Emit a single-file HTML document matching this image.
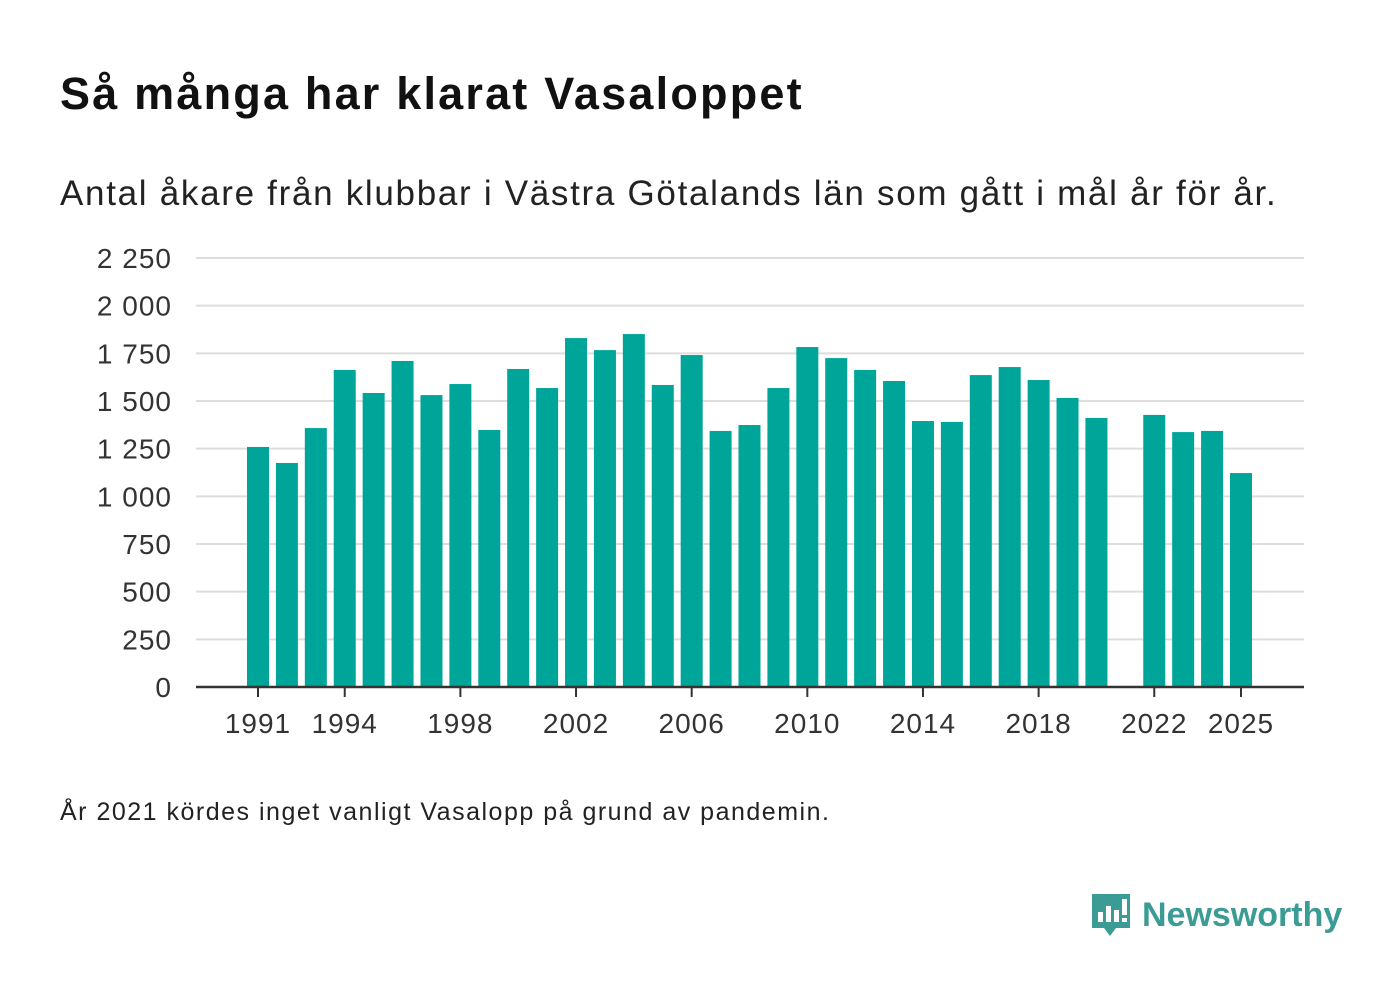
<!DOCTYPE html>
<html><head><meta charset="utf-8"><style>
body{margin:0;width:1400px;height:1000px;background:#fff;font-family:"Liberation Sans","DejaVu Sans",sans-serif;position:relative;overflow:hidden;color:#111}
#title{position:absolute;left:60px;top:68px;font-size:45px;font-weight:bold;margin:0;letter-spacing:2.2px}
#subtitle{position:absolute;left:60px;top:174px;font-size:35px;color:#222;letter-spacing:1.7px}
#note{position:absolute;left:60px;top:798px;font-size:25px;color:#222;letter-spacing:1.5px}
#logo{position:absolute;left:1090px;top:890px;display:flex;align-items:center}
#logo span{font-size:34px;font-weight:bold;color:#3a9c94;margin-left:10px}
svg text{font-family:"Liberation Sans","DejaVu Sans",sans-serif}
</style></head><body>
<h1 id="title">Så många har klarat Vasaloppet</h1>
<div id="subtitle">Antal åkare från klubbar i Västra Götalands län som gått i mål år för år.</div>
<svg id="chart" width="1400" height="1000" style="position:absolute;left:0;top:0"></svg>
<div id="note">År 2021 kördes inget vanligt Vasalopp på grund av pandemin.</div>
<div id="logo">
<svg width="42" height="50" viewBox="0 0 42 50"><path d="M2 4h38v34H26l-6 8-6-8H2z" fill="#3a9c94"/><rect x="8" y="22" width="5" height="10" fill="#fff"/><rect x="16" y="16" width="5" height="16" fill="#fff"/><rect x="24" y="20" width="5" height="12" fill="#fff"/><rect x="32" y="9" width="5" height="16" fill="#fff"/><rect x="32" y="28" width="5" height="4" fill="#fff"/></svg>
<span>Newsworthy</span></div>
<script>
const years=[1991,1992,1993,1994,1995,1996,1997,1998,1999,2000,2001,2002,2003,2004,2005,2006,2007,2008,2009,2010,2011,2012,2013,2014,2015,2016,2017,2018,2019,2020,2021,2022,2023,2024,2025];
const values=[1259,1175,1358,1663,1542,1710,1531,1589,1348,1668,1568,1830,1767,1851,1584,1741,1343,1374,1568,1783,1725,1663,1605,1395,1390,1636,1678,1610,1516,1411,null,1427,1337,1343,1122];
const yTicks=[0,250,500,750,1000,1250,1500,1750,2000,2250];
const yTickLabels=["0","250","500","750","1 000","1 250","1 500","1 750","2 000","2 250"];
const xTicks=[1991,1994,1998,2002,2006,2010,2014,2018,2022,2025];
const NS="http://www.w3.org/2000/svg";
const svg=document.getElementById('chart');
const y=v=>687-v*(429/2250);
const x=yr=>258+(yr-1991)*(983/34);
function mk(t,a){const e=document.createElementNS(NS,t);for(const k in a)e.setAttribute(k,a[k]);svg.appendChild(e);return e;}
yTicks.forEach((t,i)=>{
 if(t>0){const g=mk('line',{x1:196,x2:1304,y1:y(t),y2:y(t),stroke:'#ddd','stroke-width':2});
 
 }
 const l=mk('text',{x:172,y:y(t)+10,'text-anchor':'end','font-size':28,fill:'#333','letter-spacing':1});
 l.textContent=yTickLabels[i];
 
 
});
years.forEach((yr,i)=>{
 if(values[i]==null)return;
 const r=mk('rect',{x:x(yr)-11,y:y(values[i]),width:22,height:687-y(values[i]),fill:'#00a59a'});
 
 
});
const ax=mk('line',{x1:196,x2:1304,y1:687,y2:687,stroke:'#333','stroke-width':2.5});


xTicks.forEach(t=>{
 const tk=mk('line',{x1:x(t),x2:x(t),y1:687,y2:697,stroke:'#333','stroke-width':2});
 
 
 const l=mk('text',{x:x(t),y:733,'text-anchor':'middle','font-size':28,fill:'#333','letter-spacing':1});
 l.textContent=t;
 
 
});
</script>
</body></html>
